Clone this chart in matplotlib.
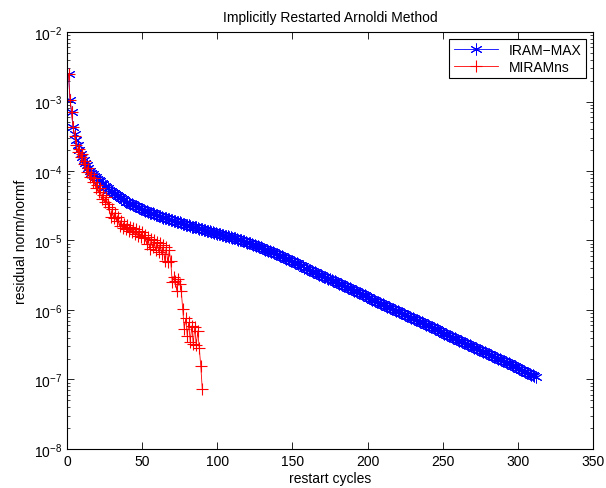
import matplotlib.pyplot as plt
import numpy as np

plt.rcParams['font.family'] = ['Liberation Sans', 'DejaVu Sans']
plt.rcParams['mathtext.fontset'] = 'custom'
plt.rcParams['mathtext.rm'] = 'Liberation Sans'

# log10 of residual norm/normf, one value per restart cycle
iram_log = [
    -2.60, -2.98, -3.15, -3.37, -3.47, -3.55, -3.63, -3.70, -3.75, -3.80,
    -3.84, -3.88, -3.92, -3.96, -4.00, -4.03, -4.05, -4.07, -4.09, -4.11,
    -4.13, -4.15, -4.17, -4.19, -4.21, -4.23, -4.25, -4.27, -4.29, -4.30,
    -4.32, -4.33, -4.35, -4.36, -4.38, -4.39, -4.41, -4.42, -4.44, -4.45,
    -4.46, -4.47, -4.48, -4.49, -4.50, -4.51, -4.52, -4.53, -4.54, -4.55,
    -4.56, -4.57, -4.58, -4.59, -4.60, -4.60, -4.61, -4.62, -4.63, -4.64,
    -4.65, -4.65, -4.66, -4.67, -4.67, -4.68, -4.69, -4.69, -4.70, -4.71,
    -4.72, -4.72, -4.73, -4.74, -4.74, -4.75, -4.76, -4.76, -4.77, -4.78,
    -4.78, -4.79, -4.80, -4.80, -4.81, -4.81, -4.82, -4.83, -4.83, -4.84,
    -4.85, -4.85, -4.86, -4.86, -4.87, -4.88, -4.88, -4.89, -4.89, -4.90,
    -4.91, -4.91, -4.92, -4.92, -4.93, -4.94, -4.94, -4.95, -4.95, -4.96,
    -4.97, -4.97, -4.98, -4.99, -4.99, -5.00, -5.01, -5.01, -5.02, -5.03,
    -5.04, -5.04, -5.05, -5.06, -5.07, -5.08, -5.08, -5.09, -5.10, -5.11,
    -5.12, -5.13, -5.14, -5.15, -5.15, -5.16, -5.17, -5.18, -5.19, -5.20,
    -5.21, -5.22, -5.23, -5.24, -5.25, -5.26, -5.27, -5.28, -5.29, -5.30,
    -5.31, -5.32, -5.33, -5.34, -5.35, -5.36, -5.37, -5.39, -5.40, -5.41,
    -5.42, -5.43, -5.44, -5.45, -5.46, -5.47, -5.48, -5.49, -5.50, -5.51,
    -5.52, -5.53, -5.54, -5.55, -5.56, -5.57, -5.58, -5.59, -5.60, -5.61,
    -5.62, -5.63, -5.64, -5.65, -5.66, -5.67, -5.68, -5.69, -5.70, -5.71,
    -5.72, -5.73, -5.74, -5.75, -5.76, -5.77, -5.78, -5.79, -5.80, -5.82,
    -5.83, -5.84, -5.85, -5.86, -5.87, -5.88, -5.89, -5.90, -5.91, -5.92,
    -5.93, -5.94, -5.95, -5.96, -5.97, -5.98, -5.99, -6.00, -6.01, -6.02,
    -6.03, -6.04, -6.05, -6.06, -6.07, -6.08, -6.09, -6.10, -6.11, -6.12,
    -6.13, -6.14, -6.15, -6.16, -6.17, -6.18, -6.19, -6.20, -6.21, -6.22,
    -6.23, -6.24, -6.25, -6.26, -6.27, -6.28, -6.29, -6.30, -6.31, -6.33,
    -6.34, -6.35, -6.36, -6.37, -6.38, -6.39, -6.40, -6.41, -6.42, -6.43,
    -6.44, -6.45, -6.46, -6.47, -6.48, -6.49, -6.50, -6.51, -6.52, -6.53,
    -6.54, -6.55, -6.56, -6.57, -6.58, -6.59, -6.60, -6.61, -6.62, -6.63,
    -6.64, -6.65, -6.66, -6.67, -6.68, -6.69, -6.70, -6.71, -6.72, -6.73,
    -6.74, -6.75, -6.76, -6.77, -6.78, -6.79, -6.80, -6.81, -6.82, -6.84,
    -6.85, -6.86, -6.87, -6.88, -6.89, -6.90, -6.91, -6.92, -6.93, -6.94,
    -6.95, -6.96,
]

miram_log = [
    -2.60, -2.98, -3.15, -3.37, -3.50, -3.62, -3.72, -3.68, -3.80, -3.76,
    -3.90, -3.86, -4.01, -3.95, -4.09, -4.04, -4.16, -4.10, -4.24, -4.20,
    -4.30, -4.25, -4.40, -4.35, -4.45, -4.38, -4.47, -4.52, -4.66, -4.55,
    -4.68, -4.60, -4.72, -4.66, -4.79, -4.72, -4.82, -4.76, -4.84, -4.78,
    -4.86, -4.80, -4.88, -4.82, -4.90, -4.84, -4.93, -4.86, -4.95, -4.88,
    -4.97, -4.92, -5.05, -4.95, -5.12, -4.98, -5.10, -5.00, -5.14, -5.02,
    -5.16, -5.04, -5.20, -5.06, -5.29, -5.10, -5.31, -5.14, -5.29, -5.60,
    -5.52, -5.58, -5.72, -5.55, -5.62, -5.72, -5.99, -6.27, -6.12, -6.37,
    -6.18, -6.46, -6.23, -6.49, -6.24, -6.51, -6.30, -6.55, -6.80, -7.14,
]

y_exponents = [-8, -7, -6, -5, -4, -3, -2]

iram_cycles = np.arange(1, len(iram_log) + 1)
miram_cycles = np.arange(1, len(miram_log) + 1)
iram = 10.0 ** np.array(iram_log)
miram = 10.0 ** np.array(miram_log)

fig = plt.figure(figsize=(6.06, 4.89), dpi=100)
ax = fig.add_axes([0.1106, 0.0798, 0.8679, 0.8527])

# MATLAB-style asterisk for IRAM-MAX
ax.semilogy(iram_cycles, iram, color='b', linestyle='-', marker=(6, 2, 0),
            linewidth=0.6, markersize=8.5, markeredgewidth=0.7,
            label='IRAM\u2212MAX')
ax.semilogy(miram_cycles, miram, 'r-+', linewidth=0.6, markersize=9,
            markeredgewidth=0.8, label='MIRAMns')

ax.set_xlim(0, 350)
ax.set_ylim(1e-8, 1e-2)
ax.set_xticks(np.arange(0, 351, 50))
ax.set_yticks([10.0 ** e for e in y_exponents])
ax.set_yticklabels([r'$10^{%d}$' % e for e in y_exponents])

ax.tick_params(which='both', direction='in', top=True, right=True, labelsize=10)
ax.tick_params(which='major', length=5, width=0.6)
ax.tick_params(which='minor', length=2.5, width=0.5)
for s in ax.spines.values():
    s.set_linewidth(0.8)

ax.set_title('Implicitly Restarted Arnoldi Method', fontsize=10, pad=8)
ax.set_xlabel('restart cycles', fontsize=10, labelpad=2)
ax.set_ylabel('residual norm/normf', fontsize=10)

leg = ax.legend(loc='upper right', fontsize=10, fancybox=False, framealpha=1,
                edgecolor='black', borderaxespad=0.5, handlelength=3.2,
                borderpad=0.3, labelspacing=0.2)
leg.get_frame().set_linewidth(0.8)

plt.savefig('out.png', dpi=100)
